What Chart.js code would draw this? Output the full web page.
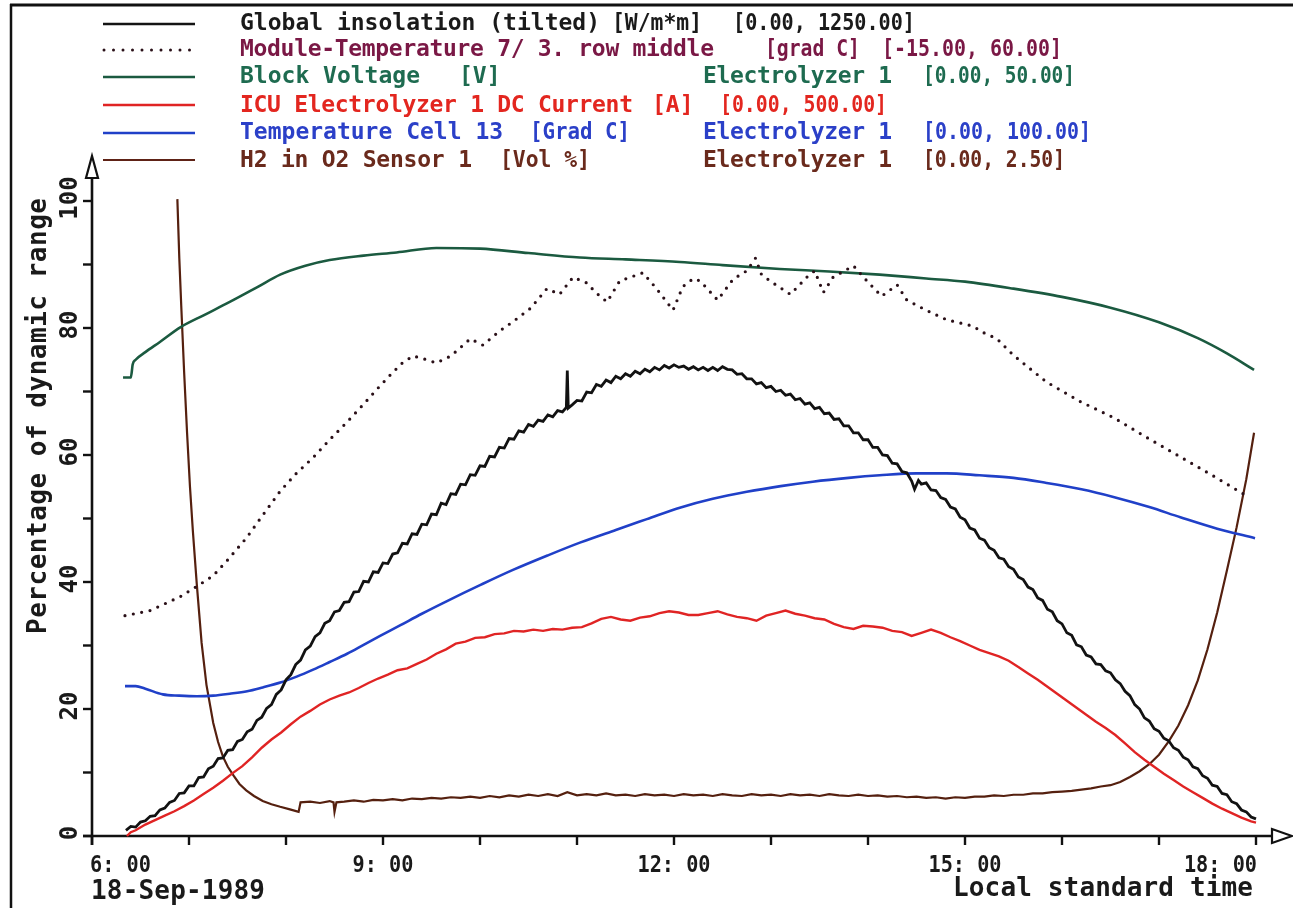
<!DOCTYPE html>
<html><head><meta charset="utf-8">
<script src="https://cdn.jsdelivr.net/npm/chart.js@4.4.1/dist/chart.umd.min.js"></script>
<style>
html,body{margin:0;padding:0;background:#fff;}
#wrap{position:relative;width:1293px;height:908px;overflow:hidden;background:#fff;}
#c{position:absolute;left:0;top:0;}
#ov{position:absolute;left:0;top:0;pointer-events:none;}
#ov text{font-family:"DejaVu Sans Mono",monospace;font-weight:bold;}
</style></head><body>
<div id="wrap">
<canvas id="c" width="1293" height="908"></canvas>
<svg id="ov" width="1293" height="908" xmlns="http://www.w3.org/2000/svg">
  <line x1="10" y1="5" x2="1293" y2="5" stroke="#111" stroke-width="3"/>
  <line x1="11" y1="4" x2="11" y2="908" stroke="#111" stroke-width="2.5"/>
  <!-- legend samples -->
  <line x1="103" y1="24" x2="195" y2="24" stroke="#141414" stroke-width="2.5"/>
  <line x1="104" y1="50" x2="195" y2="50" stroke="#2a1018" stroke-width="3" stroke-dasharray="0 9.5" stroke-linecap="round"/>
  <line x1="103" y1="77" x2="195" y2="77" stroke="#1b5a40" stroke-width="2.5"/>
  <line x1="103" y1="105" x2="195" y2="105" stroke="#e02424" stroke-width="2.5"/>
  <line x1="103" y1="133" x2="195" y2="133" stroke="#2040c8" stroke-width="2.5"/>
  <line x1="103" y1="160" x2="195" y2="160" stroke="#5e2216" stroke-width="2.2"/>
  <!-- legend texts -->
  <g font-size="23">
    <text x="240" y="30" fill="#1a1a1a">Global insolation (tilted)</text>
    <text x="612" y="30" fill="#1a1a1a" textLength="90" lengthAdjust="spacingAndGlyphs">[W/m*m]</text>
    <text x="733" y="30" fill="#1a1a1a" textLength="182" lengthAdjust="spacingAndGlyphs">[0.00, 1250.00]</text>

    <text x="240" y="56" fill="#7a1845" textLength="474" lengthAdjust="spacing">Module-Temperature 7/ 3. row middle</text>
    <text x="765" y="56" fill="#7a1845" textLength="95" lengthAdjust="spacingAndGlyphs">[grad C]</text>
    <text x="882" y="56" fill="#7a1845" textLength="180" lengthAdjust="spacingAndGlyphs">[-15.00, 60.00]</text>

    <text x="240" y="83" fill="#1e6b50">Block Voltage</text>
    <text x="459" y="83" fill="#1e6b50">[V]</text>
    <text x="703" y="83" fill="#1e6b50" textLength="189" lengthAdjust="spacing">Electrolyzer 1</text>
    <text x="923" y="83" fill="#1e6b50" textLength="152" lengthAdjust="spacingAndGlyphs">[0.00, 50.00]</text>

    <text x="240" y="112" fill="#e3261f" textLength="393" lengthAdjust="spacing">ICU Electrolyzer 1 DC Current</text>
    <text x="652" y="112" fill="#e3261f">[A]</text>
    <text x="720" y="112" fill="#e3261f" textLength="167" lengthAdjust="spacingAndGlyphs">[0.00, 500.00]</text>

    <text x="240" y="139" fill="#2b40c8">Temperature Cell 13</text>
    <text x="530" y="139" fill="#2b40c8" textLength="100" lengthAdjust="spacingAndGlyphs">[Grad C]</text>
    <text x="703" y="139" fill="#2b40c8" textLength="189" lengthAdjust="spacing">Electrolyzer 1</text>
    <text x="923" y="139" fill="#2b40c8" textLength="168" lengthAdjust="spacingAndGlyphs">[0.00, 100.00]</text>

    <text x="240" y="167" fill="#6a2a1c" textLength="232" lengthAdjust="spacing">H2 in O2 Sensor 1</text>
    <text x="500" y="167" fill="#6a2a1c" textLength="90" lengthAdjust="spacingAndGlyphs">[Vol %]</text>
    <text x="703" y="167" fill="#6a2a1c" textLength="189" lengthAdjust="spacing">Electrolyzer 1</text>
    <text x="923" y="167" fill="#6a2a1c" textLength="142" lengthAdjust="spacingAndGlyphs">[0.00, 2.50]</text>
  </g>
  <text font-size="26" fill="#1a1a1a" text-anchor="middle" textLength="436" lengthAdjust="spacing" transform="translate(46,416) rotate(-90)">Percentage of dynamic range</text>
  <text x="91" y="899" font-size="26" fill="#1a1a1a" textLength="174" lengthAdjust="spacing">18-Sep-1989</text>
  <text x="1253" y="896" font-size="26" fill="#1a1a1a" text-anchor="end" textLength="300" lengthAdjust="spacing">Local standard time</text>
</svg>
</div>
<script>
// ---------- DATA (hour of day, % of dynamic range) ----------
const xTickHours = [6,7,8,9,10,11,12,13,14,15,16,17,18];
const xLabelHours = [6,9,12,15,18];
const xLabels = ["6: 00","9: 00","12: 00","15: 00","18: 00"];
const yTickValues = [0,10,20,30,40,50,60,70,80,90,100];
const yLabelValues = [0,20,40,60,80,100];
const yLabels = ["0","20","40","60","80","100"];

const insolation = [[6.35,0.9],[6.40,1.5],[6.45,1.4],[6.50,2.2],[6.55,2.4],[6.60,3.1],[6.65,3.2],[6.70,4.1],[6.75,4.4],[6.80,5.3],[6.85,5.6],[6.90,6.7],[6.95,6.8],[7.00,7.9],[7.05,7.9],[7.10,9.2],[7.15,9.3],[7.20,10.6],[7.25,11.0],[7.30,12.2],[7.35,12.3],[7.40,13.5],[7.45,13.6],[7.50,14.9],[7.55,15.2],[7.60,16.4],[7.65,16.8],[7.70,18.2],[7.75,18.7],[7.80,20.1],[7.85,20.7],[7.90,22.3],[7.95,23.0],[8.00,24.6],[8.05,25.4],[8.10,27.0],[8.15,27.7],[8.20,29.3],[8.25,29.9],[8.30,31.4],[8.35,32.0],[8.40,33.5],[8.45,33.9],[8.50,35.3],[8.55,35.5],[8.60,36.8],[8.65,36.9],[8.70,38.4],[8.75,38.5],[8.80,40.1],[8.85,40.0],[8.90,41.6],[8.95,41.5],[9.00,43.0],[9.05,42.9],[9.10,44.4],[9.15,44.6],[9.20,46.1],[9.25,46.0],[9.30,47.6],[9.35,47.5],[9.40,49.1],[9.45,49.0],[9.50,50.7],[9.55,50.6],[9.60,52.4],[9.65,52.2],[9.70,53.9],[9.75,53.8],[9.80,55.4],[9.85,55.3],[9.90,56.9],[9.95,56.8],[10.00,58.3],[10.05,58.2],[10.10,59.8],[10.15,59.7],[10.20,61.2],[10.25,61.1],[10.30,62.6],[10.35,62.5],[10.40,63.8],[10.45,63.6],[10.50,64.8],[10.55,64.5],[10.60,65.5],[10.65,65.3],[10.70,66.3],[10.75,66.0],[10.80,67.0],[10.85,66.8],[10.89,67.5],[10.90,73.3],[10.91,67.4],[10.95,67.9],[11.00,68.6],[11.05,68.5],[11.10,69.9],[11.15,69.8],[11.20,71.1],[11.25,70.8],[11.30,71.8],[11.35,71.4],[11.40,72.4],[11.45,72.0],[11.50,72.8],[11.55,72.4],[11.60,73.2],[11.65,72.8],[11.70,73.5],[11.75,73.1],[11.80,73.8],[11.85,73.4],[11.90,74.1],[11.95,73.7],[12.00,74.2],[12.05,73.8],[12.10,74.0],[12.15,73.5],[12.20,73.9],[12.25,73.4],[12.30,73.8],[12.35,73.3],[12.40,73.8],[12.45,73.3],[12.50,73.9],[12.55,73.5],[12.60,73.4],[12.65,72.7],[12.70,72.8],[12.75,72.0],[12.80,72.0],[12.85,71.2],[12.90,71.4],[12.95,70.6],[13.00,70.8],[13.05,70.0],[13.10,70.2],[13.15,69.4],[13.20,69.6],[13.25,68.7],[13.30,68.9],[13.35,68.0],[13.40,68.2],[13.45,67.3],[13.50,67.5],[13.55,66.5],[13.60,66.6],[13.65,65.6],[13.70,65.7],[13.75,64.6],[13.80,64.6],[13.85,63.5],[13.90,63.5],[13.95,62.4],[14.00,62.4],[14.05,61.2],[14.10,61.2],[14.15,60.0],[14.20,59.9],[14.25,58.7],[14.30,58.6],[14.35,57.4],[14.40,57.2],[14.45,55.9],[14.48,54.6],[14.52,56.0],[14.55,55.4],[14.60,55.6],[14.65,54.5],[14.70,54.4],[14.75,53.3],[14.80,53.0],[14.85,51.8],[14.90,51.5],[14.95,50.2],[15.00,49.8],[15.05,48.5],[15.10,48.2],[15.15,46.9],[15.20,46.6],[15.25,45.4],[15.30,45.0],[15.35,43.8],[15.40,43.6],[15.45,42.4],[15.50,42.0],[15.55,40.8],[15.60,40.4],[15.65,39.2],[15.70,38.8],[15.75,37.5],[15.80,37.1],[15.85,35.7],[15.90,35.3],[15.95,33.9],[16.00,33.4],[16.05,32.0],[16.10,31.6],[16.15,30.1],[16.20,29.8],[16.25,28.5],[16.30,28.2],[16.35,27.1],[16.40,27.0],[16.45,26.0],[16.50,25.7],[16.55,24.6],[16.60,24.0],[16.65,22.8],[16.70,22.1],[16.75,20.7],[16.80,20.0],[16.85,18.6],[16.90,18.1],[16.95,16.9],[17.00,16.5],[17.05,15.4],[17.10,15.0],[17.15,13.9],[17.20,13.5],[17.25,12.4],[17.30,12.0],[17.35,10.9],[17.40,10.6],[17.45,9.5],[17.50,9.1],[17.55,8.0],[17.60,7.8],[17.65,6.7],[17.70,6.5],[17.75,5.4],[17.80,5.1],[17.85,4.1],[17.90,3.8],[17.95,3.0],[18.00,2.7]];

const moduleTemp = [[6.34,34.7],[6.6,35.5],[6.91,37.7],[7.1,39.5],[7.25,41.0],[7.4,43.5],[7.59,46.9],[7.75,50.3],[7.94,54.3],[8.1,57.0],[8.28,59.6],[8.45,62.4],[8.63,65.2],[8.8,68.0],[8.97,70.9],[9.1,73.0],[9.2,74.5],[9.31,75.6],[9.45,75.0],[9.55,74.5],[9.7,75.6],[9.9,78.3],[10.03,77.3],[10.2,79.5],[10.34,81.0],[10.52,83.1],[10.69,86.2],[10.82,85.3],[10.96,88.0],[11.1,87.1],[11.2,85.5],[11.31,84.1],[11.44,87.4],[11.55,88.0],[11.68,88.7],[11.82,86.2],[11.99,82.8],[12.09,86.5],[12.2,87.8],[12.27,87.4],[12.45,84.4],[12.61,87.7],[12.75,89.0],[12.84,91.0],[12.9,88.5],[12.99,87.4],[13.2,85.3],[13.37,88.0],[13.45,89.0],[13.54,85.6],[13.64,88.0],[13.85,89.8],[13.99,87.4],[14.14,85.0],[14.3,86.8],[14.4,84.4],[14.6,82.8],[14.81,81.3],[15.08,80.3],[15.2,79.2],[15.33,78.3],[15.5,75.7],[15.84,71.5],[16.19,68.4],[16.53,65.9],[16.87,62.8],[17.22,59.7],[17.56,56.7],[17.9,53.6]];

const blockVoltage = [[6.32,72.2],[6.40,72.2],[6.42,74.3],[6.45,75.0],[6.55,76.2],[6.7,77.8],[6.91,80.1],[7.15,82.0],[7.42,84.1],[7.7,86.4],[7.94,88.4],[8.2,89.8],[8.45,90.7],[8.8,91.4],[9.14,91.9],[9.55,92.6],[10.0,92.5],[10.5,91.8],[11.03,91.1],[11.5,90.8],[12.06,90.4],[12.5,89.9],[13.09,89.3],[13.6,88.9],[14.12,88.4],[14.6,87.8],[15.0,87.3],[15.5,86.2],[16.0,84.9],[16.5,83.2],[17.0,80.9],[17.4,78.4],[17.7,76.0],[17.98,73.4]];

const dcCurrent = [[6.36,0.0],[6.40,0.6],[6.45,0.9],[6.55,1.8],[6.65,2.5],[6.75,3.2],[6.85,3.9],[6.95,4.7],[7.05,5.6],[7.15,6.6],[7.25,7.6],[7.35,8.7],[7.45,9.9],[7.55,11.0],[7.65,12.4],[7.75,13.9],[7.85,15.2],[7.95,16.3],[8.05,17.6],[8.15,18.8],[8.25,19.7],[8.35,20.7],[8.45,21.5],[8.55,22.1],[8.65,22.6],[8.75,23.3],[8.85,24.1],[8.95,24.8],[9.05,25.4],[9.15,26.1],[9.25,26.4],[9.35,27.1],[9.45,27.8],[9.55,28.7],[9.65,29.4],[9.75,30.3],[9.85,30.6],[9.95,31.2],[10.05,31.3],[10.15,31.8],[10.25,31.9],[10.35,32.3],[10.45,32.2],[10.55,32.5],[10.65,32.3],[10.75,32.6],[10.85,32.5],[10.95,32.8],[11.05,32.9],[11.15,33.5],[11.25,34.2],[11.35,34.5],[11.45,34.1],[11.55,33.9],[11.65,34.4],[11.75,34.6],[11.85,35.1],[11.95,35.4],[12.05,35.2],[12.15,34.8],[12.25,34.8],[12.35,35.1],[12.45,35.4],[12.55,34.9],[12.65,34.5],[12.75,34.3],[12.85,33.9],[12.95,34.7],[13.05,35.1],[13.15,35.5],[13.25,35.0],[13.35,34.7],[13.45,34.3],[13.55,34.1],[13.65,33.4],[13.75,32.9],[13.85,32.6],[13.95,33.1],[14.05,33.0],[14.15,32.8],[14.25,32.3],[14.35,32.1],[14.45,31.5],[14.55,32.0],[14.65,32.5],[14.75,32.0],[14.85,31.3],[14.95,30.7],[15.05,30.0],[15.15,29.3],[15.25,28.8],[15.35,28.3],[15.45,27.6],[15.55,26.6],[15.65,25.6],[15.75,24.6],[15.85,23.5],[15.95,22.4],[16.05,21.3],[16.15,20.2],[16.25,19.1],[16.35,18.0],[16.45,17.0],[16.55,15.9],[16.65,14.6],[16.75,13.2],[16.85,12.0],[16.95,10.9],[17.05,9.8],[17.15,8.8],[17.25,7.8],[17.35,6.9],[17.45,6.0],[17.55,5.1],[17.65,4.3],[17.75,3.6],[17.85,2.9],[17.95,2.3],[18.00,2.1]];

const cellTemp = [[6.34,23.6],[6.45,23.6],[6.55,23.2],[6.73,22.3],[6.9,22.1],[7.08,22.0],[7.25,22.1],[7.42,22.4],[7.6,22.8],[7.76,23.4],[7.95,24.2],[8.11,25.1],[8.28,26.2],[8.45,27.4],[8.63,28.7],[8.8,30.1],[8.97,31.5],[9.18,33.2],[9.4,35.0],[9.66,37.0],[10.0,39.5],[10.34,41.9],[10.7,44.2],[11.03,46.2],[11.4,48.2],[11.72,49.9],[12.06,51.7],[12.4,53.1],[12.75,54.2],[13.1,55.1],[13.43,55.8],[13.8,56.4],[14.12,56.8],[14.5,57.1],[14.81,57.1],[15.15,56.8],[15.5,56.4],[15.84,55.6],[16.2,54.6],[16.53,53.4],[16.9,51.8],[17.22,50.2],[17.6,48.4],[17.99,46.9]];

const h2inO2 = [[6.88,100.3],[6.90,91.0],[6.92,83.5],[6.95,73.0],[6.98,63.5],[7.01,55.0],[7.04,48.0],[7.08,39.7],[7.13,30.4],[7.18,23.8],[7.25,17.8],[7.30,14.8],[7.35,12.5],[7.40,10.9],[7.46,9.5],[7.52,8.2],[7.59,7.2],[7.67,6.3],[7.76,5.5],[7.85,5.0],[7.94,4.6],[8.04,4.2],[8.13,3.8],[8.15,5.3],[8.25,5.4],[8.35,5.2],[8.45,5.5],[8.49,5.3],[8.50,3.8],[8.52,5.3],[8.6,5.4],[8.7,5.6],[8.8,5.4],[8.9,5.7],[9.0,5.6],[9.1,5.8],[9.2,5.6],[9.3,5.9],[9.4,5.8],[9.5,6.0],[9.6,5.9],[9.7,6.1],[9.8,6.0],[9.9,6.2],[10.0,6.0],[10.1,6.3],[10.2,6.1],[10.3,6.4],[10.4,6.2],[10.5,6.5],[10.6,6.3],[10.7,6.6],[10.8,6.3],[10.9,6.9],[11.0,6.4],[11.1,6.6],[11.2,6.4],[11.3,6.7],[11.4,6.4],[11.5,6.5],[11.6,6.3],[11.7,6.6],[11.8,6.4],[11.9,6.5],[12.0,6.3],[12.1,6.6],[12.2,6.4],[12.3,6.5],[12.4,6.3],[12.5,6.6],[12.6,6.4],[12.7,6.3],[12.8,6.6],[12.9,6.4],[13.0,6.5],[13.1,6.3],[13.2,6.6],[13.3,6.4],[13.4,6.5],[13.5,6.3],[13.6,6.6],[13.7,6.4],[13.8,6.3],[13.9,6.5],[14.0,6.3],[14.1,6.4],[14.2,6.2],[14.3,6.3],[14.4,6.1],[14.5,6.2],[14.6,6.0],[14.7,6.1],[14.8,5.9],[14.9,6.1],[15.0,6.0],[15.1,6.2],[15.2,6.2],[15.3,6.4],[15.4,6.3],[15.5,6.5],[15.6,6.5],[15.7,6.7],[15.8,6.7],[15.9,6.9],[16.0,7.0],[16.1,7.1],[16.2,7.3],[16.3,7.5],[16.4,7.8],[16.5,8.0],[16.6,8.5],[16.7,9.3],[16.8,10.2],[16.9,11.3],[17.0,12.8],[17.1,14.9],[17.2,17.4],[17.3,20.6],[17.4,24.5],[17.5,29.4],[17.6,35.2],[17.7,41.8],[17.8,48.6],[17.9,56.2],[17.98,63.5]];

// ---------- CHART ----------
const toXY = arr => arr.map(p => ({x: p[0], y: p[1]}));

const axesPlugin = {
  id: 'plotterAxes',
  beforeDatasetsDraw(chart) {
    const {ctx, scales: {x, y}} = chart;
    const x0 = x.getPixelForValue(6);
    const y0 = y.getPixelForValue(0);
    ctx.save();
    ctx.strokeStyle = '#111';
    ctx.lineWidth = 2.6;
    ctx.lineCap = 'butt';
    const seg = (a, b, c, d) => { ctx.beginPath(); ctx.moveTo(a, b); ctx.lineTo(c, d); ctx.stroke(); };
    // y axis with open arrow
    seg(x0, y0 + 9, x0, 178);
    ctx.lineWidth = 2.2;
    ctx.beginPath(); ctx.moveTo(x0 - 6, 178); ctx.lineTo(x0 + 6, 178); ctx.lineTo(x0, 156); ctx.closePath(); ctx.stroke();
    // x axis with open arrow
    ctx.lineWidth = 2.6;
    seg(x0 - 9, y0, 1272, y0);
    ctx.lineWidth = 2.2;
    ctx.beginPath(); ctx.moveTo(1272, y0 - 7); ctx.lineTo(1272, y0 + 7); ctx.lineTo(1292, y0); ctx.closePath(); ctx.stroke();
    ctx.lineWidth = 2.4;
    yTickValues.forEach(v => { const py = y.getPixelForValue(v); seg(x0 - 9, py, x0, py); });
    xTickHours.forEach(h => { const px = x.getPixelForValue(h); seg(px, y0, px, y0 + 9); });
    // tick labels
    ctx.fillStyle = '#1a1a1a';
    ctx.font = 'bold 23px "DejaVu Sans Mono"';
    ctx.textBaseline = 'alphabetic';
    xLabelHours.forEach((h, i) => {
      const px = x.getPixelForValue(h);
      ctx.save();
      let align = 'center', ax = px;
      if (i === 0) { align = 'left'; ax = px - 2; }
      if (i === xLabelHours.length - 1) { align = 'right'; ax = px + 1; }
      ctx.translate(ax, 872);
      ctx.scale(0.88, 1);
      ctx.textAlign = align;
      ctx.fillText(xLabels[i], 0, 0);
      ctx.restore();
    });
    ctx.font = 'bold 24px "DejaVu Sans Mono"';
    yLabelValues.forEach((v, i) => {
      const py = y.getPixelForValue(v);
      ctx.save();
      ctx.translate(77, py - 3);
      ctx.rotate(-Math.PI / 2);
      ctx.textAlign = 'center';
      ctx.fillText(yLabels[i], 0, 0);
      ctx.restore();
    });
    ctx.restore();
  }
};

const common = {pointRadius: 0, fill: false, clip: false, spanGaps: true};

new Chart(document.getElementById('c'), {
  type: 'line',
  data: {
    datasets: [
      Object.assign({label: 'Global insolation (tilted)', data: toXY(insolation), borderColor: '#121212', borderWidth: 2.8, tension: 0}, common),
      Object.assign({label: 'Module-Temperature 7/ 3. row middle', data: toXY(moduleTemp), borderColor: '#2a1018', borderWidth: 3.2, borderDash: [0, 8.5], borderCapStyle: 'round', tension: 0}, common),
      Object.assign({label: 'Block Voltage', data: toXY(blockVoltage), borderColor: '#1b5a40', borderWidth: 2.6, cubicInterpolationMode: 'monotone'}, common),
      Object.assign({label: 'ICU Electrolyzer 1 DC Current', data: toXY(dcCurrent), borderColor: '#e02424', borderWidth: 2.4, tension: 0}, common),
      Object.assign({label: 'Temperature Cell 13', data: toXY(cellTemp), borderColor: '#2040c8', borderWidth: 2.6, cubicInterpolationMode: 'monotone'}, common),
      Object.assign({label: 'H2 in O2 Sensor 1', data: toXY(h2inO2), borderColor: '#55200f', borderWidth: 2.2, tension: 0}, common)
    ]
  },
  options: {
    responsive: false,
    animation: false,
    devicePixelRatio: 1,
    layout: {padding: {left: 92, right: 37, top: 201, bottom: 72}},
    plugins: {legend: {display: false}, tooltip: {enabled: false}},
    scales: {
      x: {type: 'linear', min: 6, max: 18, display: false},
      y: {type: 'linear', min: 0, max: 100, display: false}
    }
  },
  plugins: [axesPlugin]
});
</script>
</body></html>
